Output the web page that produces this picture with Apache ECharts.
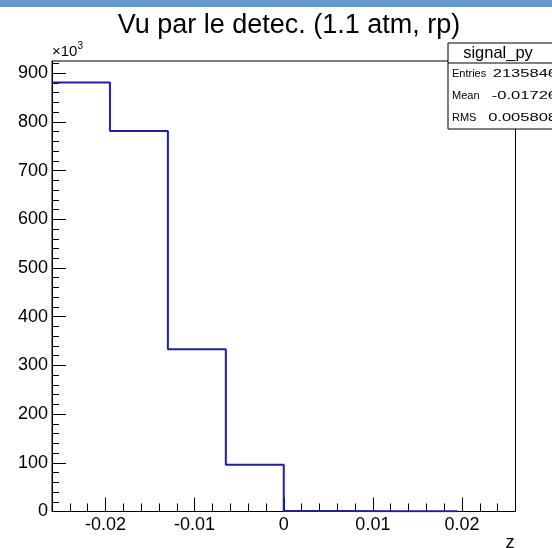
<!DOCTYPE html>
<html>
<head>
<meta charset="utf-8">
<script src="https://cdn.jsdelivr.net/npm/echarts@6/dist/echarts.min.js"></script>
<style>
  html, body { margin: 0; padding: 0; background: #fff; }
  #chart { width: 552px; height: 548px; }
</style>
</head>
<body>
<div id="chart"></div>
<script>
// Histogram bin edges (z) and contents (in units of 10^3 entries)
const binEdges = [-0.026, -0.0195, -0.013, -0.0065, 0, 0.0065, 0.013, 0.0195];
const binCounts = [881, 781.5, 333, 96, 1.2, 0.6, 0.3];

// Axis tick labels
const xTickLabels = ['-0.02', '-0.01', '0', '0.01', '0.02'];
const yTickLabels = ['0', '100', '200', '300', '400', '500', '600', '700', '800', '900'];

// Statistics box contents
const statsTitle = 'signal_py';
const statsRows = [
  ['Entries', '2135846'],
  ['Mean', '-0.01726'],
  ['RMS', '0.005808']
];

const FONT = 'Liberation Sans, Arial, Helvetica, sans-serif';

// Outline of the histogram as a staircase through the bin edges
const outline = [];
for (let i = 0; i < binCounts.length; i++) {
  outline.push([binEdges[i], binCounts[i]]);
  outline.push([binEdges[i + 1], binCounts[i]]);
}

const xMajor = xTickLabels.map(Number);
const yMajor = yTickLabels.map(Number);
// Minor ticks: 5 divisions per major step
const xMinor = [];
for (let k = -13; k <= 13; k++) xMinor.push(+(k * 0.002).toFixed(4));
const yMinor = [];
for (let k = 0; k <= 46; k++) yMinor.push(k * 20);

const chart = echarts.init(document.getElementById('chart'), null, { renderer: 'canvas' });

// Statistics box drawn over the top-right corner of the frame
const statsGraphics = [
  { type: 'rect', z: 100, shape: { x: 448, y: 43, width: 114, height: 86 },
    style: { fill: '#fff', stroke: '#000', lineWidth: 1 } },
  { type: 'line', z: 101, shape: { x1: 448, y1: 63, x2: 562, y2: 63 },
    style: { stroke: '#000', lineWidth: 1 } },
  { type: 'text', z: 102, x: 498, y: 53,
    style: { text: statsTitle, font: '16.5px ' + FONT, fill: '#000', align: 'center', verticalAlign: 'middle' } }
];
statsRows.forEach((row, i) => {
  const yc = 74 + i * 22;
  statsGraphics.push({ type: 'text', z: 102, x: 452, y: yc,
    style: { text: row[0], font: '11px ' + FONT, fill: '#000', align: 'left', verticalAlign: 'middle' } });
  statsGraphics.push({ type: 'text', z: 102, x: 557, y: yc, scaleX: 1.5,
    style: { text: row[1], font: '11px ' + FONT, fill: '#000', align: 'right', verticalAlign: 'middle' } });
});

const option = {
  animation: false,
  backgroundColor: '#fff',
  title: {
    text: 'Vu par le detec. (1.1 atm, rp)',
    left: 284,
    top: 7,
    textAlign: 'center',
    textStyle: { fontFamily: FONT, fontSize: 27, fontWeight: 'normal', color: '#000' }
  },
  grid: {
    left: 52, right: 36.5, top: 61, bottom: 36.5,
    outerBoundsMode: 'none',
    containLabel: false,
    show: true, borderColor: '#000', borderWidth: 1, backgroundColor: 'transparent'
  },
  xAxis: [
    {
      type: 'value', min: -0.026, max: 0.026, position: 'bottom',
      name: 'z', nameLocation: 'end', nameGap: -1,
      nameTextStyle: { fontFamily: FONT, fontSize: 18, color: '#000', align: 'right', verticalAlign: 'top', padding: [23, 0, 0, 0] },
      axisLine: { show: true, onZero: false, lineStyle: { color: '#000', width: 1 } },
      axisTick: { show: true, inside: true, length: 14, customValues: xMajor, lineStyle: { color: '#000', width: 1 } },
      axisLabel: {
        show: true, margin: 5, customValues: xMajor,
        formatter: v => xTickLabels[xMajor.indexOf(v)] ?? '',
        fontFamily: FONT, fontSize: 18, color: '#000'
      },
      splitLine: { show: false }
    },
    {
      type: 'value', min: -0.026, max: 0.026, position: 'bottom',
      axisLine: { show: false, onZero: false },
      axisTick: { show: true, inside: true, length: 8, customValues: xMinor, lineStyle: { color: '#000', width: 1 } },
      axisLabel: { show: false },
      splitLine: { show: false }
    }
  ],
  yAxis: [
    {
      type: 'value', min: 0, max: 925, position: 'left',
      name: '{m|×10}{e|3}', nameLocation: 'end', nameGap: 2,
      nameTextStyle: {
        align: 'left', padding: [0, 0, 0, 0],
        rich: {
          m: { fontFamily: FONT, fontSize: 15, color: '#000', verticalAlign: 'bottom' },
          e: { fontFamily: FONT, fontSize: 10, color: '#000', verticalAlign: 'top', padding: [0, 0, 8, 0] }
        }
      },
      axisLine: { show: true, onZero: false, lineStyle: { color: '#000', width: 1 } },
      axisTick: { show: true, inside: true, length: 14, customValues: yMajor, lineStyle: { color: '#000', width: 1 } },
      axisLabel: {
        show: true, margin: 4, customValues: yMajor,
        formatter: v => yTickLabels[yMajor.indexOf(v)] ?? '',
        fontFamily: FONT, fontSize: 18, color: '#000'
      },
      splitLine: { show: false }
    },
    {
      type: 'value', min: 0, max: 925, position: 'left',
      axisLine: { show: false, onZero: false },
      axisTick: { show: true, inside: true, length: 7, customValues: yMinor, lineStyle: { color: '#000', width: 1 } },
      axisLabel: { show: false },
      splitLine: { show: false }
    }
  ],
  series: [
    {
      name: statsTitle,
      type: 'line',
      xAxisIndex: 0, yAxisIndex: 0,
      data: outline,
      showSymbol: false,
      symbol: 'none',
      clip: true,
      lineStyle: { color: '#1f1fa6', width: 2 },
      z: 5
    }
  ],
  graphic: [
    { type: 'rect', z: 100, shape: { x: 0, y: 0, width: 552, height: 7 }, style: { fill: '#6698cc' } },
    ...statsGraphics
  ]
};

chart.setOption(option);
</script>
</body>
</html>
